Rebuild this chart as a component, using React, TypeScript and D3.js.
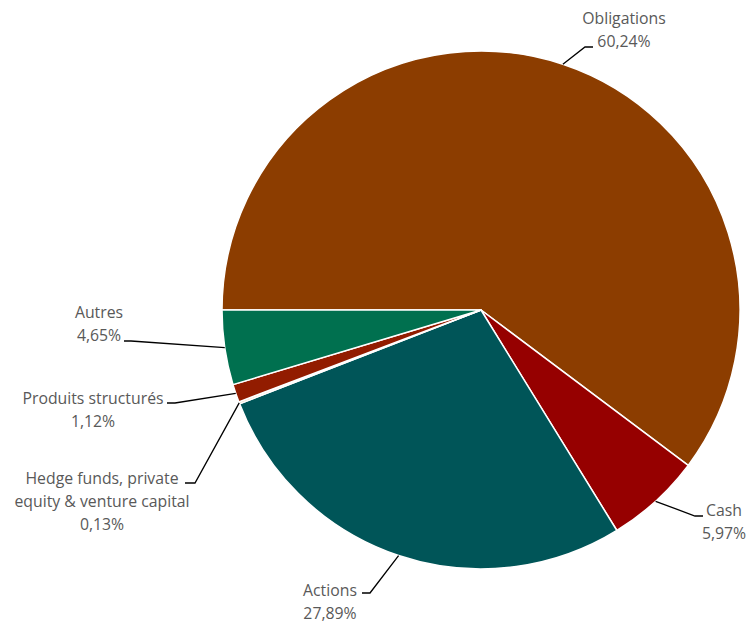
import React from "react";
import * as d3 from "d3";

const categories = ["Obligations", "Cash", "Actions", "Hedge funds, private equity & venture capital", "Produits structurés", "Autres"];
const values = [60.24, 5.97, 27.89, 0.13, 1.12, 4.65];
const valueLabels = ["60,24%", "5,97%", "27,89%", "0,13%", "1,12%", "4,65%"];
const colors = ["#8C3D00", "#960000", "#005558", "#F2DEC4", "#921C00", "#00704F"];
const labelLines = [
  ["Obligations"],
  ["Cash"],
  ["Actions"],
  ["Hedge funds, private", "equity & venture capital"],
  ["Produits structurés"],
  ["Autres"],
];

// label layout: elbow point, end of leader, text center x, first baseline
const labelLayout = [
  { ex: 585, ey: 47, hx: 593, tx: 624, ty: 24 },
  { ex: 695, ey: 516, hx: 703, tx: 724, ty: 516 },
  { ex: 370, ey: 593, hx: 362, tx: 330, ty: 596 },
  { ex: 195, ey: 483, hx: 185, tx: 102, ty: 484 },
  { ex: 175, ey: 403, hx: 167, tx: 93, ty: 404 },
  { ex: 131, ey: 341, hx: 124, tx: 99, ty: 318 },
];

const W = 750;
const H = 625;
const cx = 481;
const cy = 310;
const R = 259;
const lineH = 23;

export default function App() {
  const data = categories.map((c, i) => ({ c, v: values[i], i }));
  const pie = d3
    .pie<any>()
    .sort(null)
    .value((d) => d.v)
    .startAngle(-Math.PI / 2)
    .endAngle((3 * Math.PI) / 2);
  const arcs = pie(data);
  const arc = d3.arc<any>().innerRadius(0).outerRadius(R);

  return (
    <svg
      width={W}
      height={H}
      style={{ position: "absolute", left: 0, top: 0, background: "#fff" }}
      fontFamily="'Open Sans', 'Noto Sans', sans-serif"
    >
      <g transform={`translate(${cx},${cy})`}>
        {arcs.map((a, i) => (
          <path key={i} d={arc(a) as string} fill={colors[i]} stroke="#fff" strokeWidth={1.5} strokeLinejoin="round" />
        ))}
      </g>
      {arcs.map((a, i) => {
        const mid = (a.startAngle + a.endAngle) / 2;
        const sx = cx + R * Math.sin(mid);
        const sy = cy - R * Math.cos(mid);
        const L = labelLayout[i];
        const lines = [...labelLines[i], valueLabels[i]];
        return (
          <g key={i}>
            <polyline
              points={`${sx},${sy} ${L.ex},${L.ey} ${L.hx},${L.ey}`}
              fill="none"
              stroke="#000"
              strokeWidth={1.3}
            />
            <text textAnchor="middle" fontSize={15.8} fill="#595959">
              {lines.map((t, j) => (
                <tspan key={j} x={L.tx} y={L.ty + j * lineH}>
                  {t}
                </tspan>
              ))}
            </text>
          </g>
        );
      })}
    </svg>
  );
}
